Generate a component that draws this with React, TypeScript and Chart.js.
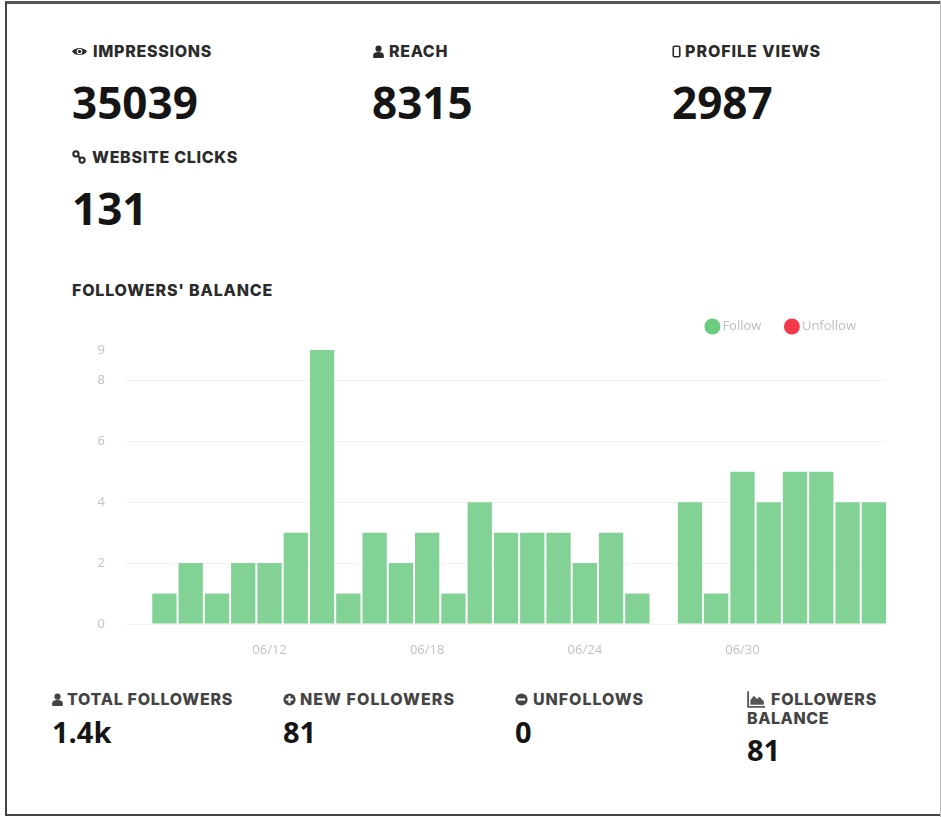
import React, { useEffect, useRef } from "react";
import { Chart, registerables } from "chart.js";

Chart.register(...registerables);

const dates = [
  "06/07", "06/08", "06/09", "06/10", "06/11", "06/12", "06/13", "06/14", "06/15", "06/16",
  "06/17", "06/18", "06/19", "06/20", "06/21", "06/22", "06/23", "06/24", "06/25", "06/26",
  "06/27", "06/28", "06/29", "06/30", "07/01", "07/02", "07/03", "07/04", "07/05",
];
const follow = [0, 1, 2, 1, 2, 2, 3, 9, 1, 3, 2, 3, 1, 4, 3, 3, 3, 2, 3, 1, 0, 4, 1, 5, 4, 5, 5, 4, 4];
const unfollow = [0, 0, 0, 0, 0, 0, 0, 0, 0, 0, 0, 0, 0, 0, 0, 0, 0, 0, 0, 0, 0, 0, 0, 0, 0, 0, 0, 0, 0];
const yTicks = [0, 2, 4, 6, 8, 9];

type Icon = "eye" | "user" | "phone" | "link" | "plus" | "minus" | "area";

const LABEL_FONT = "Inter, 'Open Sans', sans-serif";
const VALUE_FONT = "'Open Sans', sans-serif";

function IconGlyph({ kind, x, y, size, color }: { kind: Icon; x: number; y: number; size: number; color: string }) {
  const style: React.CSSProperties = { position: "absolute", left: x, top: y - size / 2, width: size, height: size };
  const common = { viewBox: "0 0 16 16", style };
  if (kind === "eye")
    return (
      <svg {...common}>
        <path d="M0 8C3 3 13 3 16 8C13 13 3 13 0 8Z" fill={color} />
        <circle cx="8" cy="8" r="3" fill="#fff" />
        <circle cx="8" cy="8" r="1.8" fill={color} />
      </svg>
    );
  if (kind === "user")
    return (
      <svg {...common}>
        <circle cx="8" cy="4.5" r="3.8" fill={color} />
        <path d="M1.5 16V12.5C1.5 9.5 4 8.5 8 8.5C12 8.5 14.5 9.5 14.5 12.5V16Z" fill={color} />
      </svg>
    );
  if (kind === "phone")
    return (
      <svg {...common}>
        <rect x="4" y="1.5" width="8" height="13" rx="1.5" fill="none" stroke={color} strokeWidth="2" />
      </svg>
    );
  if (kind === "link")
    return (
      <svg {...common}>
        <circle cx="4.5" cy="4.5" r="3" fill="none" stroke={color} strokeWidth="2.4" />
        <circle cx="11.5" cy="11.5" r="3" fill="none" stroke={color} strokeWidth="2.4" />
        <path d="M6 6L10 10" stroke={color} strokeWidth="2.4" />
      </svg>
    );
  if (kind === "plus" || kind === "minus")
    return (
      <svg {...common}>
        <circle cx="8" cy="8" r="7.5" fill={color} />
        <rect x="3.5" y="6.7" width="9" height="2.6" fill="#fff" />
        {kind === "plus" && <rect x="6.7" y="3.5" width="2.6" height="9" fill="#fff" />}
      </svg>
    );
  return (
    <svg {...common}>
      <path d="M1 1V15H16" fill="none" stroke={color} strokeWidth="1.6" />
      <path d="M3 13L3 9L6 5L9 8L11 6L15 10V13Z" fill={color} />
    </svg>
  );
}

function Label({ text, x, y, width, size = 16, color = "#2b2b2b" }: { text: string; x: number; y: number; width: number; size?: number; color?: string }) {
  const ref = useRef<HTMLDivElement>(null);
  useEffect(() => {
    const el = ref.current;
    if (!el) return;
    el.style.letterSpacing = "0px";
    const w = el.getBoundingClientRect().width;
    el.style.letterSpacing = `${(width - w) / text.length}px`;
  }, [text, width]);
  return (
    <div
      ref={ref}
      style={{
        position: "absolute", left: x, top: y - 10, height: 20, lineHeight: "20px",
        fontFamily: LABEL_FONT, fontWeight: 800, fontSize: size, color, whiteSpace: "nowrap",
      }}
    >
      {text}
    </div>
  );
}

function Value({ text, x, y, size }: { text: string; x: number; y: number; size: number }) {
  return (
    <div
      style={{
        position: "absolute", left: x, top: y - size, height: size * 2, lineHeight: `${size * 2}px`,
        fontFamily: VALUE_FONT, fontWeight: 700, fontSize: size, color: "#151515", whiteSpace: "nowrap",
      }}
    >
      {text}
    </div>
  );
}

export default function App() {
  const canvasRef = useRef<HTMLCanvasElement>(null);

  useEffect(() => {
    if (!canvasRef.current) return;
    const chart = new Chart(canvasRef.current, {
      type: "bar",
      data: {
        labels: dates,
        datasets: [
          { label: "Follow", data: follow, backgroundColor: "#82d296", hoverBackgroundColor: "#82d296", categoryPercentage: 1, barPercentage: 0.925 },
          { label: "Unfollow", data: unfollow, backgroundColor: "#f23a4a", categoryPercentage: 1, barPercentage: 0.925 },
        ],
      },
      plugins: [
        {
          id: "legendInset",
          afterLayout(c: any) {
            c.legend.right -= 4;
            c.legend.top -= 7;
          },
        },
      ],
      options: {
        responsive: false,
        animation: false,
        layout: { padding: 0 },
        plugins: {
          tooltip: { enabled: false },
          legend: {
            display: true,
            position: "top",
            align: "end",
            labels: {
              usePointStyle: true,
              pointStyle: "circle",
              boxHeight: 11.3,
              boxWidth: 7,
              padding: 27,
              color: "#bdbdbd",
              font: { family: "'Open Sans', sans-serif", size: 13 },
              generateLabels(c: any) {
                const colors = ["#6bcb7f", "#f23a4a"];
                return c.data.datasets.map((d: any, i: number) => ({
                  text: d.label,
                  fillStyle: colors[i],
                  strokeStyle: colors[i],
                  lineWidth: 0,
                  pointStyle: "circle",
                  fontColor: "#bdbdbd",
                  datasetIndex: i,
                }));
              },
            },
          },
        },
        scales: {
          x: {
            stacked: true,
            grid: { display: false },
            border: { display: false },
            afterFit(s: any) {
              s.height = 41;
            },
            ticks: {
              autoSkip: false,
              maxRotation: 0,
              color: "#c4c0c0",
              padding: 10,
              font: { family: "'Open Sans', sans-serif", size: 13 },
              callback(_v: any, i: number) {
                return i % 6 === 5 ? dates[i] : "";
              },
            },
          },
          y: {
            stacked: true,
            min: 0,
            max: 9,
            border: { display: false },
            afterFit(s: any) {
              s.width = 45;
            },
            afterBuildTicks(s: any) {
              s.ticks = yTicks.map((value) => ({ value }));
            },
            grid: {
              drawTicks: false,
              color: (ctx: any) => (ctx.tick && ctx.tick.value === 9 ? "rgba(0,0,0,0)" : "#f3f3f3"),
            },
            ticks: {
              color: "#c4c0c0",
              padding: 20,
              font: { family: "'Open Sans', sans-serif", size: 13 },
            },
          },
        },
      },
    } as any);
    return () => chart.destroy();
  }, []);

  return (
    <div style={{ position: "absolute", left: 0, top: 0, width: 941, height: 817, background: "#fff", overflow: "hidden", filter: "blur(0.5px)" }}>
      <div style={{ position: "absolute", left: 5, top: 1, width: 940, height: 815, boxSizing: "border-box", borderTop: "3px solid #555", borderLeft: "2px solid #444", borderBottom: "2px solid #444" }} />
      <div style={{ position: "absolute", left: 940, top: 0, width: 1, height: 817, background: "#bbb" }} />

      <IconGlyph kind="eye" x={72} y={51} size={15} color="#2b2b2b" />
      <Label text="IMPRESSIONS" x={93} y={51} width={119} />
      <Value text="35039" x={72} y={102} size={44} />

      <IconGlyph kind="user" x={372} y={51} size={13} color="#2b2b2b" />
      <Label text="REACH" x={389} y={51} width={59} />
      <Value text="8315" x={372} y={102} size={44} />

      <IconGlyph kind="phone" x={670} y={51} size={13} color="#2b2b2b" />
      <Label text="PROFILE VIEWS" x={685} y={51} width={136} />
      <Value text="2987" x={672} y={102} size={44} />

      <IconGlyph kind="link" x={72} y={157} size={14} color="#2b2b2b" />
      <Label text="WEBSITE CLICKS" x={92} y={157} width={146} />
      <Value text="131" x={72} y={208} size={44} />

      <Label text="FOLLOWERS' BALANCE" x={72} y={290} width={201} />

      <canvas ref={canvasRef} width={807} height={365} style={{ position: "absolute", left: 80, top: 300, width: 807, height: 365 }} />

      <IconGlyph kind="user" x={51} y={699} size={13} color="#444" />
      <Label text="TOTAL FOLLOWERS" x={67} y={699} width={166} color="#444" />
      <Value text="1.4k" x={52} y={732} size={29} />

      <IconGlyph kind="plus" x={283} y={699} size={13} color="#444" />
      <Label text="NEW FOLLOWERS" x={300} y={699} width={155} color="#444" />
      <Value text="81" x={283} y={732} size={29} />

      <IconGlyph kind="minus" x={515} y={699} size={13} color="#444" />
      <Label text="UNFOLLOWS" x={533} y={699} width={111} color="#444" />
      <Value text="0" x={515} y={732} size={29} />

      <IconGlyph kind="area" x={747} y={699} size={18} color="#555" />
      <Label text="FOLLOWERS" x={771} y={699} width={106} color="#444" />
      <Label text="BALANCE" x={747} y={718} width={82} color="#444" />
      <Value text="81" x={747} y={750} size={29} />
    </div>
  );
}
